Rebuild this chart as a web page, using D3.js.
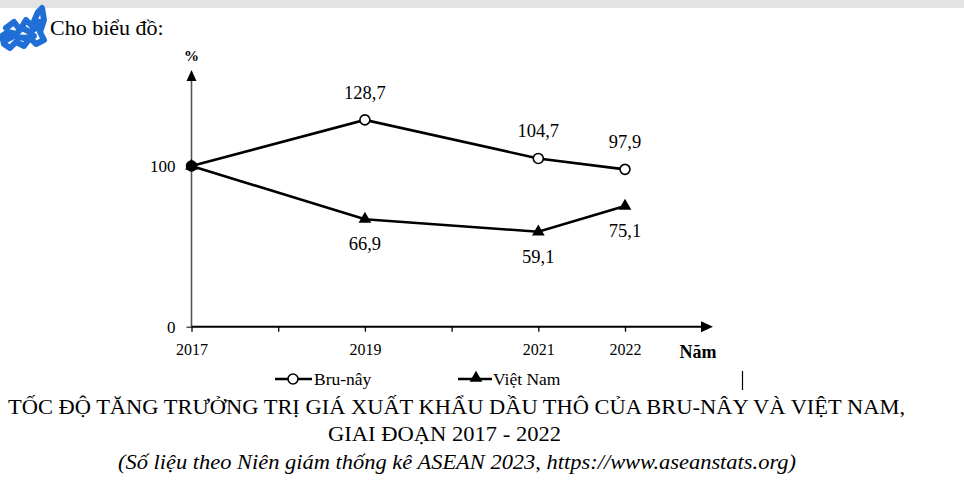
<!DOCTYPE html>
<html><head><meta charset="utf-8">
<script src="https://cdn.jsdelivr.net/npm/d3@7"></script>
<style>
html,body{margin:0;padding:0;background:#fff;}
</style></head>
<body>
<svg id="c" width="964" height="481"></svg>
<script>
const years = [2017, 2019, 2021, 2022];
const tickYears = [2017, 2018, 2019, 2020, 2021, 2022];
const tickLabels = ["2017", "", "2019", "", "2021", "2022"];
const brunei = [100, 128.7, 104.7, 97.9];
const vietnam = [100, 66.9, 59.1, 75.1];
const bruneiLabels = ["", "128,7", "104,7", "97,9"];
const vietnamLabels = ["", "66,9", "59,1", "75,1"];
const yTicks = [0, 100];
const seriesNames = ["Bru-nây", "Việt Nam"];

const FF = "Liberation Serif";
const svg = d3.select("#c").attr("font-family", FF);

svg.append("rect").attr("x",0).attr("y",0).attr("width",964).attr("height",8).attr("fill","#e3e3e3");

// blue scribble
svg.append("path")
  .attr("d","M6,28 L14,22 L20,30 L26,20 L32,26 L38,12 L42,8 L44,20 L40,32 L44,40 L36,44 L30,38 L24,46 L16,42 L10,48 L4,44 L2,36 L8,32 L16,34 L22,28 L30,32 L36,28 L40,22 M6,40 L14,36 L24,38 L34,36")
  .attr("fill","none").attr("stroke","#1f6fd6").attr("stroke-width",6).attr("stroke-linecap","round").attr("stroke-linejoin","round");

svg.append("text").attr("x",50).attr("y",35).attr("font-family",FF).attr("font-size",22).text("Cho biểu đồ:");

const x = d3.scaleLinear().domain([2017, 2022]).range([191.5, 625]);
const y = d3.scaleLinear().domain([0, 100]).range([326.7, 166]);

// y axis
svg.append("line").attr("x1",x(2017)).attr("x2",x(2017)).attr("y1",y(0)).attr("y2",78)
  .attr("stroke","#555").attr("stroke-width",1.6);
svg.append("path").attr("d",`M${x(2017)-5},81 L${x(2017)},70 L${x(2017)+5},81 Z`).attr("fill","#000");
svg.append("text").attr("x",x(2017)).attr("y",61).attr("text-anchor","middle").attr("font-family",FF)
  .attr("font-size",15).attr("font-weight","bold").text("%");

const yAxis = d3.axisLeft(y).tickValues(yTicks).tickSize(5).tickFormat(d3.format("d"));
const gy = svg.append("g").attr("transform",`translate(${x(2017)},0)`).call(yAxis);
gy.attr("font-family",FF).attr("font-size",17);
gy.select(".domain").remove();
gy.selectAll(".tick line").attr("stroke","#000");
gy.selectAll(".tick text").attr("font-family",FF).attr("font-size",17).attr("fill","#000").attr("x",-16);

// x axis
svg.append("line").attr("x1",x(2017)).attr("x2",704).attr("y1",y(0)).attr("y2",y(0))
  .attr("stroke","#000").attr("stroke-width",2);
svg.append("path").attr("d",`M701,${y(0)-5.5} L713,${y(0)} L701,${y(0)+5.5} Z`).attr("fill","#000");
const xAxis = d3.axisBottom(x).tickValues(tickYears).tickSize(5)
  .tickFormat((d,i)=>tickLabels[i]);
const gx = svg.append("g").attr("transform",`translate(0,${y(0)})`).call(xAxis);
gx.attr("font-family",FF).attr("font-size",16);
gx.select(".domain").remove();
gx.selectAll(".tick line").attr("stroke","#000").attr("stroke-width",1.3);
gx.selectAll(".tick text").attr("font-family",FF).attr("font-size",16).attr("fill","#000").attr("y",17);
svg.append("text").attr("x",698).attr("y",358).attr("text-anchor","middle").attr("font-family",FF)
  .attr("font-size",18).attr("font-weight","bold").text("Năm");

const line = d3.line().x((d,i)=>x(years[i])).y(d=>y(d));

svg.append("path").datum(vietnam).attr("d",line).attr("fill","none").attr("stroke","#000").attr("stroke-width",2.6);
const tri = d3.symbol().type(d3.symbolTriangle).size(70);
svg.selectAll(".vn").data(vietnam).enter().append("path")
  .attr("transform",(d,i)=>`translate(${x(years[i])},${y(d)})`).attr("d",tri).attr("fill","#000");

svg.append("path").datum(brunei).attr("d",line).attr("fill","none").attr("stroke","#000").attr("stroke-width",2.6);
svg.selectAll(".bn").data(brunei).enter().append("circle")
  .attr("cx",(d,i)=>x(years[i])).attr("cy",d=>y(d)).attr("r",5)
  .attr("fill",(d,i)=>i===0?"#000":"#fff").attr("stroke","#000").attr("stroke-width",1.6);

svg.selectAll(".bl").data(brunei).enter().append("text")
  .attr("x",(d,i)=>x(years[i])).attr("y",d=>y(d)-21).attr("font-family",FF)
  .attr("text-anchor","middle").attr("font-size",18.5).text((d,i)=>bruneiLabels[i]);
svg.selectAll(".vl").data(vietnam).enter().append("text")
  .attr("x",(d,i)=>x(years[i])).attr("y",d=>y(d)+31).attr("font-family",FF)
  .attr("text-anchor","middle").attr("font-size",18.5).text((d,i)=>vietnamLabels[i]);

// legend
const lg = svg.append("g").attr("font-family",FF);
lg.append("line").attr("x1",275).attr("x2",312).attr("y1",379).attr("y2",379).attr("stroke","#000").attr("stroke-width",2.4);
lg.append("circle").attr("cx",293).attr("cy",379).attr("r",5).attr("fill","#fff").attr("stroke","#000").attr("stroke-width",1.6);
lg.append("text").attr("x",314).attr("y",385).attr("font-size",17.5).text(seriesNames[0]);
lg.append("line").attr("x1",458).attr("x2",492).attr("y1",379).attr("y2",379).attr("stroke","#000").attr("stroke-width",2.4);
lg.append("path").attr("transform","translate(476,378)").attr("d",tri).attr("fill","#000");
lg.append("text").attr("x",493).attr("y",385).attr("font-size",17.5).text(seriesNames[1]);

svg.append("line").attr("x1",742.5).attr("x2",742.5).attr("y1",371).attr("y2",390).attr("stroke","#000").attr("stroke-width",1.2);

// title
svg.append("text").attr("x",8).attr("y",414).attr("font-family",FF).attr("font-size",22)
  .attr("textLength",897).attr("lengthAdjust","spacingAndGlyphs")
  .text("TỐC ĐỘ TĂNG TRƯỞNG TRỊ GIÁ XUẤT KHẨU DẦU THÔ CỦA BRU-NÂY VÀ VIỆT NAM,");
svg.append("text").attr("x",328).attr("y",441).attr("font-family",FF).attr("font-size",22)
  .attr("textLength",233).attr("lengthAdjust","spacingAndGlyphs")
  .text("GIAI ĐOẠN 2017 - 2022");
svg.append("text").attr("x",118).attr("y",469).attr("font-family",FF).attr("font-size",21).attr("font-style","italic")
  .attr("textLength",678).attr("lengthAdjust","spacingAndGlyphs")
  .text("(Số liệu theo Niên giám thống kê ASEAN 2023, https://www.aseanstats.org)");
</script>
</body></html>
